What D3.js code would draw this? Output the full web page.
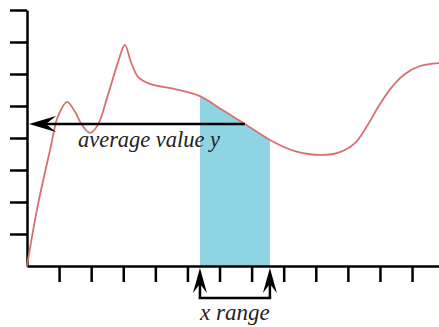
<!DOCTYPE html>
<html>
<head>
<meta charset="utf-8">
<script src="https://cdn.jsdelivr.net/npm/d3@7"></script>
<style>
  body { margin: 0; background: #fff; }
  svg { display: block; }
</style>
</head>
<body>
<div id="chart"></div>
<script>
var width = 439,
    height = 327;

// data
var xTicks = [1, 2, 3, 4, 5, 6, 7, 8, 9, 10, 11, 12];
var yTicks = [1, 2, 3, 4, 5, 6, 7, 8];
var curveX = [0, 0.34, 0.72, 0.97, 1.25, 1.50, 1.71, 1.96, 2.21, 2.52, 2.84, 3.05, 3.24, 3.46, 3.83, 4.61, 5.39, 6.08, 6.79, 7.57, 8.35, 9.19, 9.75, 10.22, 10.6, 11.0, 11.37, 11.78, 12.25, 12.84];
var curveY = [0, 1.91, 3.63, 4.69, 5.13, 4.81, 4.41, 4.16, 4.41, 5.34, 6.38, 6.91, 6.38, 5.91, 5.69, 5.53, 5.31, 4.88, 4.44, 3.94, 3.59, 3.47, 3.56, 3.84, 4.38, 5.06, 5.59, 6.0, 6.25, 6.34];
var rangeStart = 5.39,
    rangeEnd = 7.57;
var avgValue = 4.44,
    avgFromX = 6.79;

var points = curveX.map(function(d, i) { return {x: d, y: curveY[i]}; });

var x = d3.scaleLinear().domain([0, 12.84]).range([27, 439]);
var y = d3.scaleLinear().domain([0, 8]).range([266, 10]);

var svg = d3.select("#chart")
    .append("svg")
    .attr("width", width)
    .attr("height", height);

var curve = d3.curveCatmullRom.alpha(0.5);

var line = d3.line()
    .x(function(d) { return x(d.x); })
    .y(function(d) { return y(d.y); })
    .curve(curve);

var area = d3.area()
    .x(function(d) { return x(d.x); })
    .y0(y(0))
    .y1(function(d) { return y(d.y); })
    .curve(curve);

svg.append("clipPath")
    .attr("id", "under")
    .append("path")
    .attr("d", area(points));

// shaded x range
svg.append("rect")
    .attr("x", x(rangeStart))
    .attr("y", 0)
    .attr("width", x(rangeEnd) - x(rangeStart))
    .attr("height", y(0))
    .attr("fill", "#8ed4e2")
    .attr("clip-path", "url(#under)");

// axes
var yAxis = svg.append("g")
    .attr("transform", "translate(" + x(0) + ",0)")
    .call(d3.axisLeft(y).tickValues(yTicks).tickSize(17).tickSizeOuter(0).tickFormat(""));

var xAxis = svg.append("g")
    .attr("transform", "translate(0," + y(0) + ")")
    .call(d3.axisBottom(x).tickValues(xTicks).tickSize(16).tickSizeOuter(0).tickFormat(""));

svg.selectAll(".domain, .tick line")
    .attr("stroke", "#000")
    .attr("stroke-width", 2.5);

// the curve
svg.append("path")
    .attr("d", line(points))
    .attr("fill", "none")
    .attr("stroke", "#d8706f")
    .attr("stroke-width", 1.8);

// average value arrow
var ay = y(avgValue);
var tipX = x(0) + 2;
svg.append("line")
    .attr("x1", x(avgFromX)).attr("y1", ay)
    .attr("x2", tipX + 16).attr("y2", ay)
    .attr("stroke", "#000")
    .attr("stroke-width", 2.5);

svg.append("path")
    .attr("d", "M" + tipX + "," + ay + " L" + (tipX + 27) + "," + (ay - 8) +
               " L" + (tipX + 17) + "," + ay + " L" + (tipX + 27) + "," + (ay + 8) + "Z")
    .attr("fill", "#000");

svg.append("text")
    .attr("x", 78)
    .attr("y", 147)
    .attr("textLength", 142)
    .attr("lengthAdjust", "spacingAndGlyphs")
    .style("font-family", "'Liberation Serif', serif")
    .style("font-style", "italic")
    .style("font-size", "23px")
    .attr("fill", "#222")
    .text("average value y");

// x range bracket
var bracketY = 298,
    tipY = y(0) + 2;
[rangeStart, rangeEnd].forEach(function(v) {
    var px = x(v);
    svg.append("line")
        .attr("x1", px).attr("y1", bracketY)
        .attr("x2", px).attr("y2", tipY + 14)
        .attr("stroke", "#000")
        .attr("stroke-width", 2.5);
    svg.append("path")
        .attr("d", "M" + px + "," + tipY + " L" + (px + 7) + "," + (tipY + 25) +
                   " L" + px + "," + (tipY + 16) + " L" + (px - 7) + "," + (tipY + 25) + "Z")
        .attr("fill", "#000");
});

svg.append("line")
    .attr("x1", x(rangeStart) - 1.25).attr("y1", bracketY)
    .attr("x2", x(rangeEnd) + 1.25).attr("y2", bracketY)
    .attr("stroke", "#000")
    .attr("stroke-width", 2.5);

svg.append("text")
    .attr("x", (x(rangeStart) + x(rangeEnd)) / 2)
    .attr("y", 320)
    .attr("text-anchor", "middle")
    .style("font-family", "'Liberation Serif', serif")
    .style("font-style", "italic")
    .style("font-size", "23px")
    .attr("fill", "#222")
    .text("x range");
</script>
</body>
</html>
